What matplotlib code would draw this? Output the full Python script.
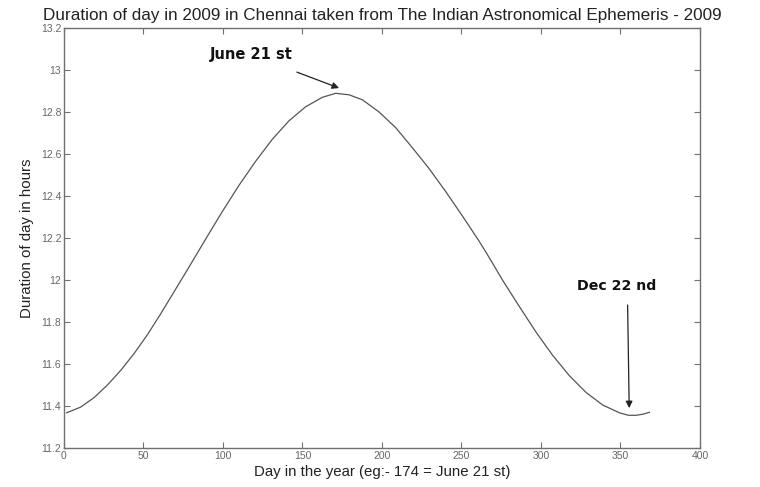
#!/usr/bin/env python3
import matplotlib
matplotlib.use('Agg')
import matplotlib.pyplot as pyplot

# day length in Chennai
days = [1.7, 10.5, 18.9, 27.3, 35.7, 44.1, 52.5, 60.9, 69.3, 77.7, 84.0,
        91.1, 99.5, 110.0, 120.5, 131.0, 141.5, 152.0, 162.5, 170.9, 179.3,
        187.7, 198.2, 208.7, 219.1, 229.7, 240.2, 250.6, 261.1, 266.4, 275.8,
        286.3, 296.9, 307.3, 317.8, 328.3, 338.8, 349.3, 355.0, 360.0, 364.0,
        368.2]
hours = [11.368, 11.395, 11.440, 11.500, 11.570, 11.650, 11.740, 11.840,
         11.945, 12.050, 12.130, 12.220, 12.325, 12.450, 12.565, 12.670,
         12.758, 12.825, 12.870, 12.889, 12.882, 12.858, 12.800, 12.725,
         12.630, 12.530, 12.420, 12.305, 12.185, 12.120, 12.000, 11.875,
         11.752, 11.642, 11.545, 11.465, 11.405, 11.368, 11.356, 11.356,
         11.361, 11.370]

x_ticks = [0, 50, 100, 150, 200, 250, 300, 350, 400]
y_ticks = [11.2, 11.4, 11.6, 11.8, 12, 12.2, 12.4, 12.6, 12.8, 13, 13.2]
y_tick_labels = ['11.2', '11.4', '11.6', '11.8', '12', '12.2', '12.4',
                 '12.6', '12.8', '13', '13.2']

pyplot.rcParams['font.family'] = ['Liberation Sans', 'DejaVu Sans']

fig = pyplot.figure(figsize=(7.6, 4.87), dpi=100)
ax = fig.add_axes([0.0842, 0.080, 0.8368, 0.8625])

ax.plot(days, hours, color='#555555', linewidth=0.9)

ax.set_xlim(0, 400)
ax.set_ylim(11.2, 13.2)
ax.set_xticks(x_ticks)
ax.set_xticklabels([str(t) for t in x_ticks])
ax.set_yticks(y_ticks)
ax.set_yticklabels(y_tick_labels)
ax.tick_params(direction='in', length=4, width=0.8, colors='#707070',
               labelcolor='#666666', labelsize=7.5, top=True, right=True,
               pad=2)
for side in ax.spines.values():
    side.set_color('#707070')
    side.set_linewidth(1.0)

ax.set_title('Duration of day in 2009 in Chennai taken from The Indian Astronomical Ephemeris - 2009',
             fontsize=12.3, pad=6, color='#222222')
ax.set_xlabel('Day in the year (eg:- 174 = June 21 st)', fontsize=10.8, labelpad=3,
              color='#222222')
ax.set_ylabel('Duration of day in hours', fontsize=10.8, labelpad=5, color='#222222')

# annotations: text and arrow drawn separately
ax.text(117.6, 13.076, 'June 21 st', fontsize=10.5, fontweight='bold',
        family='DejaVu Sans', ha='center', va='center', color='#111111')
ax.annotate('', xy=(173, 12.914), xytext=(146.5, 12.990),
            arrowprops=dict(arrowstyle='-|>', color='#222222', lw=0.9,
                            shrinkA=0, shrinkB=0, mutation_scale=10))
ax.text(347.8, 11.971, 'Dec 22 nd', fontsize=10.2, fontweight='bold',
        family='DejaVu Sans', ha='center', va='center', color='#111111')
ax.annotate('', xy=(355.5, 11.390), xytext=(354.5, 11.881),
            arrowprops=dict(arrowstyle='-|>', color='#222222', lw=0.9,
                            shrinkA=0, shrinkB=0, mutation_scale=10))

fig.savefig('out.png', dpi=100)
